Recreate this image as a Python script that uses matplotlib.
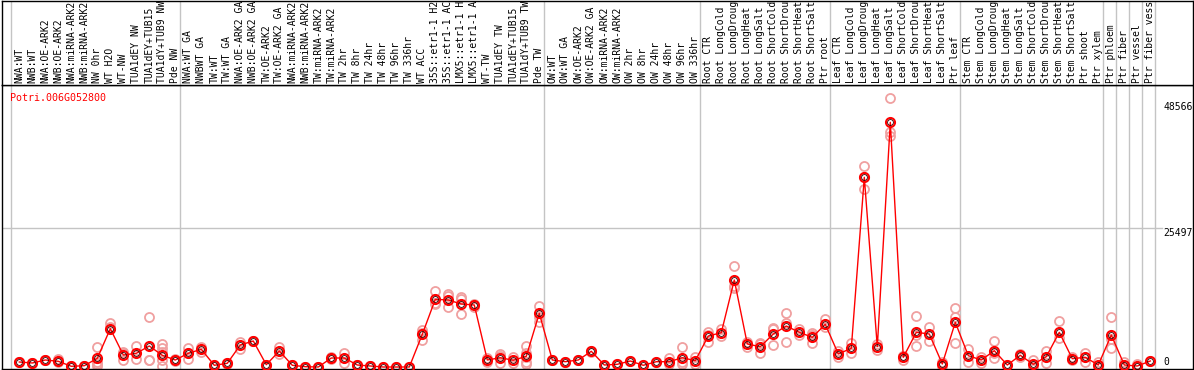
import numpy as np
import matplotlib.pyplot as plt

gene = 'Potri.006G052800'

samples = ['NWA:WT', 'NWB:WT', 'NWA:OE-ARK2', 'NWB:OE-ARK2', 'NWA:miRNA-ARK2', 'NWB:miRNA-ARK2',
           'NW 0hr', 'WT H2O', 'WT-NW', 'TUA1dEY NW', 'TUA1dEY+TUB15', 'TUA1dY+TUB9 NW', 'Pde NW',
           'NWA:WT GA', 'NWBWT GA', 'TW:WT', 'TW:WT GA', 'NWA:OE-ARK2 GA', 'NWB:OE-ARK2 GA',
           'TW:OE-ARK2', 'TW:OE-ARK2 GA', 'NWA:miRNA-ARK2', 'NWB:miRNA-ARK2', 'TW:miRNA-ARK2',
           'TW:miRNA-ARK2', 'TW 2hr', 'TW 8hr', 'TW 24hr', 'TW 48hr', 'TW 96hr', 'TW 336hr', 'WT ACC',
           '35S::etr1-1 H2O', '35S::etr1-1 ACC', 'LMX5::etr1-1 H2O', 'LMX5::etr1-1 ACC', 'WT-TW',
           'TUA1dEY TW', 'TUA1dEY+TUB15', 'TUA1dY+TUB9 TW', 'Pde TW',
           'OW:WT', 'OW:WT GA', 'OW:OE-ARK2', 'OW:OE-ARK2 GA', 'OW:miRNA-ARK2', 'OW:miRNA-ARK2',
           'OW 2hr', 'OW 8hr', 'OW 24hr', 'OW 48hr', 'OW 96hr', 'OW 336hr',
           'Root CTR', 'Root LongCold', 'Root LongDrought', 'Root LongHeat', 'Root LongSalt',
           'Root ShortCold', 'Root ShortDrought', 'Root ShortHeat', 'Root ShortSalt', 'Ptr root',
           'Leaf CTR', 'Leaf LongCold', 'Leaf LongDrought', 'Leaf LongHeat', 'Leaf LongSalt',
           'Leaf ShortCold', 'Leaf ShortDrought', 'Leaf ShortHeat', 'Leaf ShortSalt', 'Ptr leaf',
           'Stem CTR', 'Stem LongCold', 'Stem LongDrought', 'Stem LongHeat', 'Stem LongSalt',
           'Stem ShortCold', 'Stem ShortDrought', 'Stem ShortHeat', 'Stem ShortSalt', 'Ptr shoot',
           'Ptr xylem', 'Ptr phloem', 'Ptr fiber', 'Ptr vessel', 'Ptr fiber vessel']

means = [917, 734, 1284, 1045, 128, 238, 1596, 7024, 2201, 2513, 3851, 2146, 1284,
         2513, 3246, 312, 679, 4035, 4768, 422, 2934, 312, 55, 0, 1651, 1651, 367, 183, 0, 0, 0,
         5997, 12416, 12288, 11554, 11371, 1284, 1706, 1229, 1962, 9848,
         1284, 972, 1284, 2879, 367, 495, 1100, 312, 972, 972, 1706, 1155,
         5685, 6291, 15956, 4218, 3723, 6052, 7519, 6364, 5447, 7831,
         2384, 3430, 34791, 3723, 44878, 1779, 6364, 6052, 550, 8198,
         2072, 1284, 2989, 367, 2146, 495, 1889, 6364, 1522, 1779, 367,
         5869, 367, 183, 1100]

# replicate values for each sample
reps = [[1000, 830], [734, 700], [1284, 1200], [1522, 900], [128, 60], [238, 200],
        [3613, 972, 550, 183], [8125, 7391], [2806, 1284, 2500], [3906, 1412], [9115, 1229, 1210],
        [4218, 3430, 2806, 1284, 238], [1522, 1045],
        [3430, 1467, 2600], [3723, 2800], [312, 250], [679, 600], [4640, 3246], [4768, 4700],
        [422, 400], [3613, 2384], [312, 280], [55, 40], [0, 0], [1800, 1500], [2513, 789],
        [367, 300], [183, 150], [0], [0], [0], [6786, 6291, 5000], [13938, 11554, 11800],
        [13388, 13021, 11059], [12783, 12416, 9665], [11059, 11600], [1596, 862],
        [2384, 2017, 800], [1779, 789], [3851, 2623, 1779, 972, 550], [11187, 9115, 8308],
        [1284, 1200], [972, 950], [1284, 1250], [2934, 2800], [367], [495], [1100], [312], [972],
        [1596, 500], [3613, 1000, 500], [1779, 550],
        [6474, 4640, 5900], [6914, 5685], [18524, 14500, 14800], [4640, 3723], [4347, 2513, 4300],
        [7098, 4035, 7000], [9848, 4640, 8050], [6914, 5869], [6181, 4347, 5800], [8803, 7400],
        [2989, 1800], [4347, 2513], [36918, 32590, 34800], [3118, 4300], [49280, 43154, 42365],
        [2017, 1284, 2000], [9353, 3851, 5900], [7281, 4823], [972, 150], [10766, 9225, 4457],
        [3301, 850], [1779, 800], [4768, 1596, 2600], [367], [2384, 1900], [1284, 200, 0],
        [2989, 800], [8491, 5300], [1889, 1200], [2623, 1000], [972, 0],
        [9115, 3430, 5100], [972, 0], [495, 0], [1100]]

group_starts = [0, 13, 41, 53, 63, 73, 84, 85, 86, 87, 88]
ytick_vals = [48566, 25497, 0]

W, H = 1194, 370
fig = plt.figure(figsize=(W / 100, H / 100), dpi=100)
ax = fig.add_axes([2 / W, 1 / H, 1191 / W, 284 / H])
axt = fig.add_axes([2 / W, 285 / H, 1191 / W, 84.5 / H], sharex=ax)

x = np.arange(len(samples))
ax.set_xlim(-1.331, 90.285)
ax.set_ylim(-367, 51719)
axt.set_ylim(0, 1)

gray = '#c4c4c4'
for b in group_starts:
    ax.axvline(b - 0.64, color=gray, lw=1, zorder=1)
    axt.axvline(b - 0.64, color=gray, lw=1, zorder=1)
ax.plot([-1.331, 87.9], [25497, 25497], color=gray, lw=1, zorder=1)

for i, r in enumerate(reps):
    ax.plot([i] * len(r), r, 'o', ms=6.5, mfc='none', mec='#f0a0a0', mew=1.3, zorder=2)
ax.plot(x, means, '-', color='red', lw=1, zorder=3)
ax.plot(x, means, 'o', ms=6.5, mfc='none', mec='red', mew=1.5, zorder=4)
ax.plot(x, means, 'o', ms=4.2, mfc='none', mec='#300000', mew=0.6, zorder=5)

for v in ytick_vals:
    ax.text(88, v, str(v), ha='left', va='bottom' if v == 0 else 'top',
            family='DejaVu Sans Mono', fontsize=7, color='black')

fig.text(10 / W, 1 - 98 / H, gene, color='red', family='DejaVu Sans Mono',
         fontsize=7.2, va='center', ha='left')

for i, s in enumerate(samples):
    axt.text(i, 2 / 84.5, s, rotation=90, ha='center', va='bottom',
             transform=axt.get_xaxis_transform(), family='DejaVu Sans Mono',
             fontsize=7, clip_on=True)

for a in (ax, axt):
    a.set_xticks([])
    a.set_yticks([])
    for sp in a.spines.values():
        sp.set_color('black')
        sp.set_linewidth(1)

fig.savefig('out.png', dpi=100)
